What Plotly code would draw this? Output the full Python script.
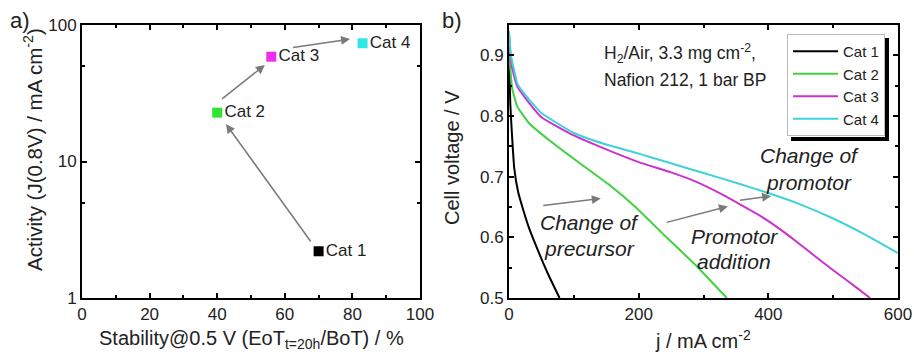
import math
import plotly.graph_objects as go

# ---------------- Panel a data ----------------
cat_names = ["Cat 1", "Cat 2", "Cat 3", "Cat 4"]
stability = [70, 40, 56, 83]          # %
activity = [2.2, 22.8, 58.6, 73.5]     # mA cm-2
cat_colors = ["#000000", "#2ee62e", "#ee2eee", "#2ee6e6"]
line_colors = ["#000000", "#3fd23f", "#cc33cc", "#3fd2d8"]

# arrows panel a: (tail_x, tail_y, head_x, head_y)
arrows_a = [
    (68.0, 2.53, 42.6, 18.8),
    (41.0, 28.2, 54.1, 50.9),
    (62.0, 68.2, 79.3, 78.9),
]

# ---------------- Panel b data ----------------
j1 = [0, 1, 2, 4, 8, 14, 22, 30, 44, 60, 78]
v1 = [0.93, 0.86, 0.82, 0.78, 0.715, 0.675, 0.645, 0.618, 0.58, 0.54, 0.50]
j2 = [0, 2, 5, 10, 13, 31, 62, 103, 154, 195, 240, 290, 336]
v2 = [0.93, 0.88, 0.845, 0.825, 0.815, 0.788, 0.760, 0.727, 0.687, 0.650, 0.603, 0.552, 0.50]
j3 = [0, 3, 8, 13, 25, 50, 100, 150, 200, 250, 290, 330, 357, 385, 408, 435, 460, 485, 511, 535, 557]
v3 = [0.935, 0.89, 0.865, 0.848, 0.83, 0.798, 0.768, 0.745, 0.724, 0.707, 0.691, 0.670, 0.654, 0.637, 0.621, 0.600, 0.579, 0.558, 0.537, 0.518, 0.50]
j4 = [0, 3, 8, 13, 25, 50, 100, 150, 200, 250, 300, 350, 400, 450, 500, 550, 600]
v4 = [0.94, 0.90, 0.875, 0.853, 0.835, 0.805, 0.772, 0.753, 0.738, 0.722, 0.706, 0.690, 0.673, 0.654, 0.631, 0.604, 0.574]
curves_j = [j1, j2, j3, j4]
curves_v = [v1, v2, v3, v4]

arrows_b = [
    (50.5, 0.652, 141.6, 0.664),
    (240.8, 0.624, 337.6, 0.651),
    (354.0, 0.661, 404.4, 0.668),
]

FONT = "Liberation Sans, Arial, sans-serif"
TXT = "#222222"
W, H = 914, 354

def px(x):
    return x / W

def py(y):
    return 1 - y / H

fig = go.Figure()

# panel a markers
for i in range(4):
    fig.add_trace(go.Scatter(
        x=[stability[i]], y=[activity[i]], mode="markers+text",
        marker=dict(symbol="square", size=10, color=cat_colors[i]),
        text=[cat_names[i]], textposition="middle right",
        textfont=dict(size=17, color=TXT, family=FONT),
        xaxis="x", yaxis="y", showlegend=False, cliponaxis=False,
    ))

# panel b curves
for i in range(4):
    fig.add_trace(go.Scatter(
        x=curves_j[i], y=curves_v[i], mode="lines", name=cat_names[i],
        line=dict(color=line_colors[i], width=2, shape="spline", smoothing=0.4),
        xaxis="x2", yaxis="y2", showlegend=True,
    ))

axis_common = dict(
    showline=True, linecolor="black", linewidth=2, mirror="ticks",
    ticks="inside", ticklen=5, tickwidth=1.5, tickcolor="black",
    showgrid=False, zeroline=False, automargin=False,
    tickfont=dict(size=17, family=FONT, color=TXT),
)
minor_common = dict(ticks="inside", ticklen=3, tickcolor="black", tickwidth=1.5)

dom_a = [px(82), px(420)]
dom_b = [px(509), px(898)]
dom_y = [py(298), py(25)]

fig.update_layout(
    width=W, height=H, margin=dict(l=0, r=0, t=0, b=0, autoexpand=False),
    paper_bgcolor="white", plot_bgcolor="white",
    font=dict(family=FONT, color=TXT),
    xaxis=dict(axis_common, domain=dom_a, range=[0, 100], dtick=20, anchor="y",
               minor=dict(minor_common, dtick=10)),
    yaxis=dict(axis_common, domain=dom_y, type="log", range=[0, 2], anchor="x",
               tickvals=[1, 10, 100], ticktext=["1", "10", "100"],
               minor=dict(minor_common, tickvals=[5, 50])),
    xaxis2=dict(axis_common, domain=dom_b, range=[0, 600], dtick=200, anchor="y2",
                minor=dict(minor_common, dtick=100)),
    yaxis2=dict(axis_common, domain=dom_y, range=[0.5, 0.95], dtick=0.1, tick0=0.5,
                tickformat=".1f", anchor="x2",
                minor=dict(minor_common, dtick=0.05)),
    legend=dict(x=px(787), y=py(34), xanchor="left", yanchor="top",
                bgcolor="white", bordercolor="#bbbbbb", borderwidth=1,
                font=dict(size=15, family=FONT, color=TXT),
                itemwidth=45, tracegroupgap=0),
)

annotations = []
for (tx, ty, hx, hy) in arrows_a:
    annotations.append(dict(
        x=hx, y=math.log10(hy), ax=tx, ay=math.log10(ty),
        xref="x", yref="y", axref="x", ayref="y",
        text="", showarrow=True, arrowhead=2, arrowsize=1.2, arrowwidth=1.5,
        arrowcolor="#7a7a7a", standoff=0, startstandoff=0))
for (tx, ty, hx, hy) in arrows_b:
    annotations.append(dict(
        x=hx, y=hy, ax=tx, ay=ty,
        xref="x2", yref="y2", axref="x2", ayref="y2",
        text="", showarrow=True, arrowhead=2, arrowsize=1.2, arrowwidth=1.5,
        arrowcolor="#7a7a7a", standoff=0, startstandoff=0))

def label(text, x, y, size, xanchor="center", angle=0):
    annotations.append(dict(x=px(x), y=py(y), xref="paper", yref="paper", text=text,
                            showarrow=False, xanchor=xanchor, yanchor="middle",
                            textangle=angle,
                            font=dict(size=size, family=FONT, color=TXT)))

# axis titles
label("Stability@0.5 V (EoT<sub>t=20h</sub>/BoT) / %", 251, 339, 20)
label("Activity (J(0.8V) / mA cm<sup>-2</sup>)", 33, 150, 20.5, angle=-90)
label("j / mA cm<sup>-2</sup>", 703, 339, 20)
label("Cell voltage / V", 452, 158, 20, angle=-90)

# panel labels
label("a)", 8, 21, 22, xanchor="left")
label("b)", 440, 21, 22, xanchor="left")

# info text panel b
label("H<sub>2</sub>/Air, 3.3 mg cm<sup>-2</sup>,", 602, 53, 17.5, xanchor="left")
label("Nafion 212, 1 bar BP", 602, 80, 17.5, xanchor="left")

italic_labels = [
    ("Change of", 589, 222), ("precursor", 589, 248),
    ("Promotor", 734, 236), ("addition", 734, 261),
    ("Change of", 809, 156), ("promotor", 809, 183),
]
for (t, xx, yy) in italic_labels:
    label("<i>" + t + "</i>", xx, yy, 21)

fig.update_layout(annotations=annotations)

# legend shadow (right and bottom edges)
fig.add_shape(type="rect", xref="paper", yref="paper",
              x0=px(885), x1=px(889), y0=py(141), y1=py(38),
              fillcolor="black", line=dict(width=0), layer="above")
fig.add_shape(type="rect", xref="paper", yref="paper",
              x0=px(791), x1=px(889), y0=py(141), y1=py(137),
              fillcolor="black", line=dict(width=0), layer="above")

fig.write_html("out.html", config={"displayModeBar": False},
               post_script="document.body.style.margin='0px';document.body.style.overflow='hidden';")
